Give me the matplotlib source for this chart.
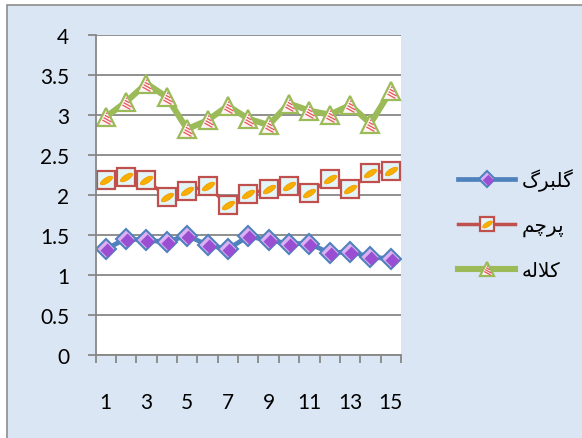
import numpy as np
import matplotlib
matplotlib.use('Agg')
import matplotlib.pyplot as plt
from matplotlib.path import Path
from matplotlib.transforms import Affine2D
from matplotlib.lines import Line2D
from matplotlib.patches import Rectangle

# sample number on x, measured values for three flower parts
samples = list(range(1, 16))
petal = [1.32, 1.45, 1.43, 1.41, 1.49, 1.37, 1.32, 1.48, 1.43, 1.39, 1.39, 1.27, 1.29, 1.22, 1.20]
stamen = [2.19, 2.22, 2.19, 1.97, 2.05, 2.11, 1.87, 2.01, 2.07, 2.11, 2.02, 2.20, 2.07, 2.27, 2.30]
stigma = [2.97, 3.16, 3.39, 3.22, 2.82, 2.93, 3.11, 2.95, 2.87, 3.14, 3.05, 3.00, 3.12, 2.89, 3.30]
labels = ['گلبرگ', 'پرچم', 'کلاله']
y_ticks = [0, 0.5, 1, 1.5, 2, 2.5, 3, 3.5, 4]
x_labels = [1, 3, 5, 7, 9, 11, 13, 15]

GRID = '#878787'
BG = '#dae6f3'

# matplotlib has no Arabic-script shaping, so pick presentation forms by hand
FORMS = {
    'گ': (0xFB92, 0xFB93, 0xFB94, 0xFB95),
    'ل': (0xFEDD, 0xFEDE, 0xFEDF, 0xFEE0),
    'ب': (0xFE8F, 0xFE90, 0xFE91, 0xFE92),
    'ر': (0xFEAD, 0xFEAE, None, None),
    'پ': (0xFB56, 0xFB57, 0xFB58, 0xFB59),
    'چ': (0xFB7A, 0xFB7B, 0xFB7C, 0xFB7D),
    'م': (0xFEE1, 0xFEE2, 0xFEE3, 0xFEE4),
    'ک': (0xFB8E, 0xFB8F, 0xFB90, 0xFB91),
    'ا': (0xFE8D, 0xFE8E, None, None),
    'ه': (0xFEE9, 0xFEEA, 0xFEEB, 0xFEEC),
}
LAM_ALEF = (0xFEFB, 0xFEFC)


def shape_fa(text):
    units = []
    i = 0
    while i < len(text):
        if text[i] == 'ل' and text[i + 1:i + 2] == 'ا':
            units.append('لا')
            i += 2
        else:
            units.append(text[i])
            i += 1

    def joins_next(u):
        return u != 'لا' and FORMS[u][2] is not None

    out = []
    for k, u in enumerate(units):
        prev = k > 0 and joins_next(units[k - 1])
        nxt = k + 1 < len(units) and joins_next(u)
        if u == 'لا':
            out.append(chr(LAM_ALEF[1 if prev else 0]))
            continue
        iso, fin, ini, med = FORMS[u]
        code = med if prev and nxt else fin if prev else ini if nxt else iso
        out.append(chr(code))
    return ''.join(reversed(out))


# decoration paths drawn on top of the plain markers
def streak_path():
    return Path.unit_circle().transformed(Affine2D().scale(1.0, 0.38).rotate_deg(32))


def dark_diamond_path():
    c, r = 0.12, 0.76
    return Path([(c, -c + r), (c + r, -c), (c, -c - r), (c - r, -c), (c, -c + r)],
                [Path.MOVETO, Path.LINETO, Path.LINETO, Path.LINETO, Path.CLOSEPOLY])


def stripes_path():
    verts, codes = [], []
    xs = np.linspace(-1, 1, 400)
    for c in [-0.55, -0.2, 0.15, 0.5]:
        ys = -0.55 * xs + c
        inside = (ys >= -0.8) & (ys <= 2 * xs + 0.65) & (ys <= -2 * xs + 0.65)
        if inside.sum() < 2:
            continue
        px, py = xs[inside], ys[inside]
        verts += [(px[0], py[0]), (px[-1], py[-1])]
        codes += [Path.MOVETO, Path.LINETO]
    return Path(verts, codes)


STREAK = streak_path()
DARK_D = dark_diamond_path()
STRIPES = stripes_path()
DARK_D_M = np.abs(DARK_D.vertices).max()
STRIPES_M = np.abs(STRIPES.vertices).max()


def series_artists(x, y, kind, scale=1.0):
    """Return (line with base marker, overlay) Line2D pair for one series."""
    if kind == 'petal':
        ms = 10.5 * scale
        base = Line2D(x, y, color='#4f81bd', lw=3.4, marker='D', ms=ms,
                      mfc='#dcb0f2', mec='#4f81bd', mew=1.5)
        over = Line2D(x, y, ls='none', marker=DARK_D, ms=1.414 * DARK_D_M * ms * 0.9,
                      mfc='#9a4ed2', mec='none')
    elif kind == 'stamen':
        ms = 12.5 * scale
        base = Line2D(x, y, color='#c0504d', lw=2.5, marker='s', ms=ms,
                      mfc='#e4f5f7', mec='#c0504d', mew=1.6)
        over = Line2D(x, y, ls='none', marker=STREAK, ms=ms * 0.72,
                      mfc='#f7b000', mec='#f59a00', mew=0.6)
    else:
        ms = 12.5 * scale
        base = Line2D(x, y, color='#9bbb59', lw=4.4, marker='^', ms=ms,
                      mfc='#fdf4f4', mec='#9bbb59', mew=1.6)
        over = Line2D(x, y, ls='none', marker=STRIPES, ms=ms * STRIPES_M,
                      mfc='none', mec='#e8545a', mew=0.9)
    return base, over


fig = plt.figure(figsize=(5.82, 4.39), dpi=100, facecolor='white')
fig.patches.append(Rectangle((7 / 582, -0.1), 1.1, 1 - 6 / 439 + 0.1,
                             transform=fig.transFigure, facecolor=BG,
                             edgecolor='#8c8c8c', lw=1.2, zorder=-5))

ax = fig.add_axes([95.5 / 582, (439 - 355.7) / 439, (401 - 95.5) / 582, 320 / 439])
ax.set_facecolor('white')
ax.set_xlim(0.5, 15.5)
ax.set_ylim(0, 4)

ax.set_yticks(y_ticks, labels=[f'{v:g}' for v in y_ticks])
ax.set_xticks(x_labels, labels=[str(v) for v in x_labels])
ax.set_xticks(np.arange(0.5, 15.6, 1), minor=True)
ax.yaxis.grid(True, color=GRID, lw=1.3)
ax.set_axisbelow(True)

for side in ['top', 'right']:
    ax.spines[side].set_visible(False)
for side in ['left', 'bottom']:
    ax.spines[side].set_color(GRID)
    ax.spines[side].set_linewidth(1.3)

ax.tick_params(axis='y', length=6, width=1.3, color=GRID, pad=13, labelsize=15)
ax.tick_params(axis='x', which='major', length=0, pad=26.5, labelsize=15)
ax.tick_params(axis='x', which='minor', length=6, width=1.3, color=GRID)
for lab in ax.get_xticklabels() + ax.get_yticklabels():
    lab.set_fontfamily('Lato')

handles = []
for kind, vals in zip(['petal', 'stamen', 'stigma'], [petal, stamen, stigma]):
    base, over = series_artists(samples, vals, kind)
    ax.add_line(base)
    ax.add_line(over)
    handles.append(series_artists([], [], kind, scale=0.8))

fig.legend(handles, [shape_fa(t) for t in labels],
           loc='center left', bbox_to_anchor=(458 / 582, 1 - 225 / 439),
           frameon=False, borderpad=0, borderaxespad=0,
           handlelength=2.85, handletextpad=0.3, labelspacing=1.25,
           prop={'family': 'DejaVu Sans', 'size': 14.5})

fig.savefig('out.png', dpi=100, facecolor=fig.get_facecolor())
